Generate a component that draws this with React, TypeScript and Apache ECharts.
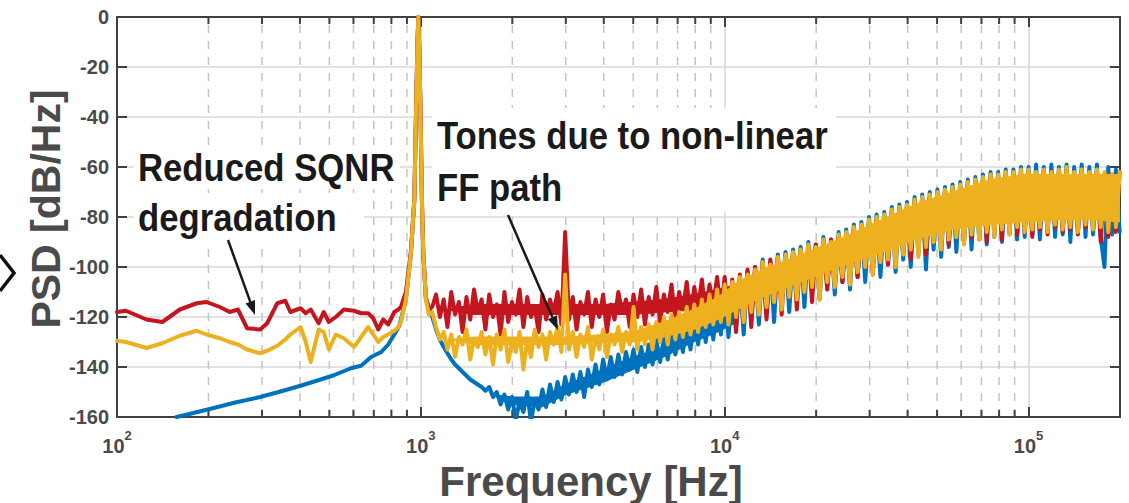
import React, { useEffect, useRef } from 'react';
import * as echarts from 'echarts';

// ---------------- data (Hz, dB/Hz) ----------------
const lowFreqRY = [100, 107, 125, 141, 161, 183, 197, 218, 235, 250, 268, 296, 312, 337, 358, 372, 402, 418, 434, 461, 479, 498, 525, 558, 603, 636, 671, 697, 724, 752, 781, 818, 843];
const redLow = [-118, -117.5, -121, -122, -117, -114.5, -114, -116, -118, -117, -124.5, -125, -122.5, -114.5, -113.5, -118, -116.5, -118.5, -117, -122.5, -118, -122, -120, -117, -117.5, -118.5, -118.5, -120.5, -125, -121, -123, -118, -117];
const yellowLow = [-129.5, -130, -132.4, -130.5, -127.5, -125.5, -127, -128.5, -130, -131, -133, -134.5, -133.5, -131.5, -129, -127, -124, -130, -138, -125, -126, -133, -127, -128.5, -132, -128, -124, -127, -130, -128, -127, -125.5, -124];

const blueLowFreq = [157, 173, 202, 245, 296, 345, 402, 468, 517, 589, 636, 686, 741, 781, 818, 850];
const blueLow = [-160, -158.8, -156.8, -154.2, -152, -149.8, -147.5, -145, -143.3, -140.5, -139.5, -136, -134, -131, -127, -123.5];

const peakFreq = [860, 893, 927, 952, 966, 975, 981, 987, 996, 1008, 1019, 1039, 1062];
const bluePeak = [-121, -113, -95, -73, -33, -10, 0, -10, -33, -73, -95, -113, -116];
const redPeak = [-116, -110, -94, -73, -33, -10, 0, -10, -33, -73, -95, -112, -117];
const yellowPeak = [-122, -113, -95, -73, -33, -10, 0, -10, -33, -73, -95, -113, -119];

const hiFreq = [
  1090, 1122, 1155, 1189, 1223, 1259, 1296, 1334, 1372, 1413,
  1454, 1496, 1540, 1585, 1631, 1679, 1728, 1778, 1830, 1884,
  1939, 1995, 2054, 2113, 2175, 2239, 2304, 2371, 2441, 2512,
  2585, 2661, 2738, 2818, 2901, 2985, 3073, 3162, 3255, 3350,
  3447, 3548, 3652, 3758, 3868, 3981, 4097, 4217, 4340, 4467,
  4597, 4732, 4870, 5012, 5158, 5309, 5464, 5623, 5788, 5957,
  6131, 6310, 6494, 6683, 6879, 7079, 7286, 7499, 7718, 7943,
  8175, 8414, 8660, 8913, 9173, 9441, 9716,
  10000, 10290, 10590, 10900, 11220, 11550, 11890, 12230, 12590, 12960,
  13340, 13730, 14130, 14540, 14960, 15400, 15850, 16310, 16790, 17280,
  17780, 18300, 18840, 19390, 19950, 20540, 21130, 21750, 22390, 23040,
  23710, 24410, 25120, 25850, 26610, 27380, 28180, 29010, 29850, 30730,
  31620, 32550, 33500, 34470, 35480, 36520, 37580, 38680, 39810, 40970,
  42170, 43400, 44670, 45970, 47320, 48700, 50120, 51580, 53090, 54640,
  56230, 57880, 59570, 61310, 63100, 64940, 66830, 68790, 70790, 72860,
  74990, 77180, 79430, 81750, 84140, 86600, 89130, 91730, 94410, 97160,
  100000, 102900, 105900, 109000, 112200, 115500, 118900, 122300, 125900, 129600,
  133400, 137300, 141300, 145400, 149600, 154000, 158500, 163100, 167900, 172800,
  177800, 183000, 188400, 193900, 199500,
];

const blueHi = [
  -120, -125, -129, -132, -134.5, -137, -139, -140.5, -142, -143.5,
  -145, -146, -147, -148, -149.5, -148, -152, -150, -155, -151,
  -157, -152, -161, -154, -158, -150, -162, -153, -157, -149,
  -156, -147, -154, -146, -153, -144, -151, -143, -150, -142,
  -152, -141, -148, -139, -147, -137, -145, -136, -144, -135,
  -143, -134, -141, -133, -142, -132, -140, -131, -139, -129,
  -138, -128, -137, -127, -135, -125, -134, -123, -133, -121,
  -131, -118, -130, -116, -129, -114, -127,
  -110, -128, -108, -124, -105, -127, -102, -121, -100, -123,
  -97, -119, -98, -122, -95, -115, -94, -118, -93, -112,
  -92, -116, -90, -110, -91, -113, -88, -108, -89, -111,
  -86, -106, -85, -109, -83, -104, -82, -106, -80, -101,
  -79, -104, -78, -99, -76, -102, -75, -97, -74, -100,
  -72, -95, -71, -101, -70, -93, -69, -96, -68, -92,
  -67, -94, -66, -90, -65, -93, -64, -89, -63, -91,
  -62, -88, -62, -90, -61, -87, -61, -89, -60, -88,
  -60, -87, -59, -89, -60, -86, -59, -88, -60, -87,
  -59, -90, -60, -86, -59, -88, -60, -87, -59, -88,
  -100, -60, -87, -61, -86,
];

const redHi = [
  -116, -111, -120, -113, -124, -110, -119, -114, -126, -112,
  -121, -109, -118, -113, -125, -111, -120, -115, -127, -110,
  -122, -114, -119, -109, -124, -112, -120, -116, -126, -111,
  -121, -113, -118, -110, -123, -86, -121, -112, -125, -114,
  -119, -110, -124, -113, -120, -111, -126, -115, -121, -110,
  -118, -113, -124, -111, -120, -109, -123, -112, -119, -108,
  -122, -111, -118, -107, -121, -110, -117, -106, -120, -108,
  -116, -105, -119, -107, -115, -104, -118,
  -104, -121, -105, -126, -103, -119, -101, -124, -100, -117,
  -98, -121, -97, -113, -96, -119, -95, -112, -94, -117,
  -93, -109, -92, -114, -91, -107, -90, -109, -89, -105,
  -88, -106, -87, -101, -85, -104, -84, -100, -82, -103,
  -81, -97, -80, -99, -78, -96, -77, -94, -76, -97,
  -74, -92, -73, -95, -72, -89, -71, -90, -70, -91,
  -69, -87, -68, -90, -67, -88, -66, -86, -65, -90,
  -64, -86, -64, -89, -63, -85, -63, -87, -62, -86,
  -62, -88, -63, -85, -62, -87, -63, -84, -62, -86,
  -61, -85, -63, -87, -62, -84, -63, -85, -62, -90,
  -63, -88, -63, -86, -62,
];

const yellowHi = [
  -118, -124, -129, -126, -133, -127, -136, -128, -131, -125,
  -137, -129, -132, -126, -135, -128, -139, -127, -133, -125,
  -138, -130, -134, -126, -141, -129, -136, -125, -132, -127,
  -137, -126, -131, -124, -134, -103, -133, -126, -136, -127,
  -132, -124, -137, -128, -133, -125, -136, -127, -131, -124,
  -134, -126, -131, -116, -133, -124, -131, -123, -133, -122,
  -130, -120, -131, -119, -129, -118, -128, -116, -127, -115,
  -126, -113, -124, -111, -123, -109, -122,
  -107, -123, -106, -120, -104, -122, -103, -118, -101, -119,
  -98, -116, -99, -114, -96, -117, -95, -112, -94, -113,
  -93, -110, -91, -108, -92, -113, -89, -106, -90, -108,
  -87, -104, -86, -107, -84, -102, -83, -100, -81, -103,
  -80, -98, -79, -97, -77, -100, -76, -95, -75, -93,
  -73, -96, -72, -92, -71, -90, -70, -93, -69, -89,
  -68, -88, -67, -91, -66, -87, -65, -89, -64, -86,
  -63, -88, -63, -85, -62, -87, -62, -84, -61, -86,
  -61, -85, -62, -84, -61, -86, -62, -83, -61, -85,
  -60, -84, -62, -86, -61, -83, -62, -85, -61, -84,
  -62, -86, -63, -84, -62,
];

// solid inner core of each noise band (where the dense trace fills completely)
const yellowCoreFreq = [1250, 1500, 2000, 2500, 3000, 4000, 5000, 6300, 7900, 9500, 11000, 13300, 17800, 23700, 31600, 42200, 56200, 75000, 97000, 130000, 160000, 199500];
const yellowCoreTop = [-129, -128, -128, -128, -128, -127, -126, -122, -117, -112, -106, -101, -95, -89, -82, -75, -70, -65, -63, -63, -63, -63];
const yellowCoreBot = [-129, -131, -131, -131, -131, -130, -130, -128, -125, -121, -117, -112, -106, -100, -95, -89, -85, -83, -82, -81, -81, -82];

const redCoreFreq = [1200, 1500, 2000, 2500, 3000, 4000, 5000, 6300, 7900, 9500, 11000];
const redCoreTop = [-117, -115, -115, -115, -115, -115, -114, -113, -111, -109, -107];
const redCoreBot = [-117, -119, -119, -119, -119, -119, -119, -118, -117, -116, -115];

const blueCoreFreq = [1700, 2000, 2500, 3000, 4000, 5000, 6300, 7900, 9500, 11000];
const blueCoreTop = [-151, -152, -152, -147, -141, -136, -132, -125, -118, -108];
const blueCoreBot = [-151, -155, -156, -151, -146, -141, -136, -130, -126, -122];

// dashed minor grid lines of the log axis
const minorGridFreqs = [
  200, 300, 400, 500, 600, 700, 800, 900,
  2000, 3000, 4000, 5000, 6000, 7000, 8000, 9000,
  20000, 30000, 40000, 50000, 60000, 70000, 80000, 90000,
];

const BLUE = '#0072BD';
const RED = '#C3161F';
const YELLOW = '#EDB120';
const AXIS = '#404040';
const LABEL = '#4a4a4a';
const FONT = '"Liberation Sans", Arial, Helvetica, sans-serif';

function pairs(f: number[], v: number[]) {
  return f.map((x, i) => [x, v[i]]);
}

export default function App() {
  const ref = useRef<HTMLDivElement>(null);
  useEffect(() => {
    document.body.style.margin = '0';
    const chart = echarts.init(ref.current!, undefined, { renderer: 'svg' });

    const blueData = [...pairs(blueLowFreq, blueLow), ...pairs(peakFreq, bluePeak), ...pairs(hiFreq, blueHi)];
    const redData = [...pairs(lowFreqRY, redLow), ...pairs(peakFreq, redPeak), ...pairs(hiFreq, redHi)];
    const yellowData = [...pairs(lowFreqRY, yellowLow), ...pairs(peakFreq, yellowPeak), ...pairs(hiFreq, yellowHi)];

    const lineSeries = (name: string, data: number[][], color: string, z: number) => ({
      name,
      type: 'line',
      data,
      showSymbol: false,
      symbol: 'none',
      clip: true,
      z,
      lineStyle: { color, width: 4, join: 'round', cap: 'round' },
      emphasis: { disabled: true },
    });

    const bandSeries = (f: number[], top: number[], bot: number[], color: string, z: number) => ({
      type: 'custom',
      silent: true,
      clip: true,
      z,
      data: f.slice(0, -1).map((x, i) => [x, top[i], bot[i], f[i + 1], top[i + 1], bot[i + 1]]),
      encode: { x: [0, 3], y: [1, 2, 4, 5] },
      renderItem: (_p: any, api: any) => {
        const a = api.coord([api.value(0), api.value(1)]);
        const b = api.coord([api.value(3), api.value(4)]);
        const c = api.coord([api.value(3), api.value(5)]);
        const d = api.coord([api.value(0), api.value(2)]);
        return { type: 'polygon', shape: { points: [a, b, c, d] }, style: { fill: color, stroke: color, lineWidth: 1 } };
      },
    });

    const axisLineStyle = { color: AXIS, width: 2 };

    const option: any = {
      animation: false,
      backgroundColor: '#ffffff',
      grid: { left: 117, right: 9, top: 17, bottom: 86, containLabel: false },
      xAxis: [
        {
          type: 'log',
          logBase: 10,
          min: 100,
          max: 200000,
          position: 'bottom',
          axisLine: { show: true, onZero: false, lineStyle: axisLineStyle },
          axisTick: { show: true, inside: true, length: 10, lineStyle: axisLineStyle },
          axisLabel: {
            margin: 12,
            showMaxLabel: false,
            formatter: (v: number) => {
              const e = Math.log10(v);
              const r = Math.round(e);
              if (Math.abs(e - r) > 1e-6) return '';
              return `{b|10}{s|${r}}`;
            },
            rich: {
              b: { fontSize: 20, fontWeight: 'bold', color: LABEL, fontFamily: FONT, padding: [7, 0, 0, 0] },
              s: { fontSize: 13, fontWeight: 'bold', color: LABEL, fontFamily: FONT, verticalAlign: 'top' },
            },
          },
          splitLine: { show: true, lineStyle: { color: '#d6d6d6', width: 1.5 } },
        },
        {
          type: 'log',
          logBase: 10,
          min: 100,
          max: 200000,
          position: 'top',
          axisLine: { show: true, onZero: false, lineStyle: axisLineStyle },
          axisTick: { show: true, inside: true, length: 10, lineStyle: axisLineStyle },
          axisLabel: { show: false },
          splitLine: { show: false },
        },
      ],
      yAxis: [
        {
          type: 'value',
          min: -160,
          max: 0,
          interval: 20,
          position: 'left',
          axisLine: { show: true, onZero: false, lineStyle: axisLineStyle },
          axisTick: { show: true, inside: true, length: 10, lineStyle: axisLineStyle },
          axisLabel: { color: LABEL, fontSize: 20, fontWeight: 'bold', fontFamily: FONT, margin: 8 },
          splitLine: { show: true, lineStyle: { color: '#d9d9d9', width: 1.5 } },
        },
        {
          type: 'value',
          min: -160,
          max: 0,
          interval: 20,
          position: 'right',
          axisLine: { show: true, onZero: false, lineStyle: axisLineStyle },
          axisTick: { show: true, inside: true, length: 10, lineStyle: axisLineStyle },
          axisLabel: { show: false },
          splitLine: { show: false },
        },
      ],
      series: [
        {
          type: 'custom',
          xAxisIndex: 0,
          yAxisIndex: 0,
          silent: true,
          z: 1,
          data: minorGridFreqs.map((f) => [f, -160]),
          encode: { x: 0, y: 1 },
          renderItem: (_params: any, api: any) => {
            const f = api.value(0);
            const bot = api.coord([f, -160]);
            const top = api.coord([f, 0]);
            return {
              type: 'group',
              children: [
                { type: 'line', shape: { x1: bot[0], y1: bot[1], x2: top[0], y2: top[1] }, style: { stroke: '#c4c4c4', lineWidth: 1.5, lineDash: [8, 8] } },
                { type: 'line', shape: { x1: bot[0], y1: bot[1], x2: bot[0], y2: bot[1] - 7 }, style: { stroke: AXIS, lineWidth: 2 } },
                { type: 'line', shape: { x1: top[0], y1: top[1], x2: top[0], y2: top[1] + 7 }, style: { stroke: AXIS, lineWidth: 2 } },
              ],
            };
          },
        },
        bandSeries(blueCoreFreq, blueCoreTop, blueCoreBot, BLUE, 3),
        lineSeries('blue', blueData, BLUE, 4),
        bandSeries(redCoreFreq, redCoreTop, redCoreBot, RED, 5),
        lineSeries('red', redData, RED, 6),
        bandSeries(yellowCoreFreq, yellowCoreTop, yellowCoreBot, YELLOW, 7),
        lineSeries('yellow', yellowData, YELLOW, 8),
      ],
      graphic: [
        // text backgrounds
        { type: 'rect', z: 100, shape: { x: 134, y: 145, width: 266, height: 44 }, style: { fill: '#ffffff' } },
        { type: 'rect', z: 100, shape: { x: 134, y: 196, width: 230, height: 48 }, style: { fill: '#ffffff' } },
        { type: 'rect', z: 100, shape: { x: 432, y: 108, width: 404, height: 104 }, style: { fill: '#ffffff' } },
        { type: 'text', z: 101, x: 138, y: 168, scaleX: 0.89, style: { text: 'Reduced SQNR', fontSize: 39, fontWeight: 'bold', fontFamily: FONT, fill: '#1a1a1a', textAlign: 'left', textVerticalAlign: 'middle' } },
        { type: 'text', z: 101, x: 138, y: 218, scaleX: 0.89, style: { text: 'degradation', fontSize: 39, fontWeight: 'bold', fontFamily: FONT, fill: '#1a1a1a', textAlign: 'left', textVerticalAlign: 'middle' } },
        { type: 'text', z: 101, x: 437, y: 136, scaleX: 0.89, style: { text: 'Tones due to non-linear', fontSize: 39, fontWeight: 'bold', fontFamily: FONT, fill: '#1a1a1a', textAlign: 'left', textVerticalAlign: 'middle' } },
        { type: 'text', z: 101, x: 437, y: 188, scaleX: 0.89, style: { text: 'FF path', fontSize: 39, fontWeight: 'bold', fontFamily: FONT, fill: '#1a1a1a', textAlign: 'left', textVerticalAlign: 'middle' } },
        // arrows
        { type: 'line', z: 102, shape: { x1: 228, y1: 240, x2: 250.3, y2: 301.8 }, style: { stroke: '#1a1a1a', lineWidth: 2.5 } },
        { type: 'polygon', z: 102, shape: { points: [[255, 315], [245.6, 303.5], [255.0, 300.1]] }, style: { fill: '#1a1a1a' } },
        { type: 'line', z: 102, shape: { x1: 508, y1: 215, x2: 552.4, y2: 317.2 }, style: { stroke: '#1a1a1a', lineWidth: 2.5 } },
        { type: 'polygon', z: 102, shape: { points: [[558, 330], [547.8, 319.2], [557.0, 315.2]] }, style: { fill: '#1a1a1a' } },
        // partial chevron at left edge
        { type: 'polyline', z: 102, shape: { points: [[0, 255], [14, 273], [0, 291]] }, style: { stroke: '#111111', lineWidth: 3.5, fill: 'none' } },
        // axis titles
        { type: 'text', z: 101, x: 46, y: 209, rotation: Math.PI / 2, style: { text: 'PSD [dB/Hz]', fontSize: 41, fontWeight: 'bold', fontFamily: FONT, fill: LABEL, textAlign: 'center', textVerticalAlign: 'middle' } },
        { type: 'text', z: 101, x: 591, y: 481, style: { text: 'Frequency [Hz]', fontSize: 42, fontWeight: 'bold', fontFamily: FONT, fill: LABEL, textAlign: 'center', textVerticalAlign: 'middle' } },
      ],
    };

    chart.setOption(option);
    return () => chart.dispose();
  }, []);

  return <div ref={ref} style={{ width: 1129, height: 503 }} />;
}
